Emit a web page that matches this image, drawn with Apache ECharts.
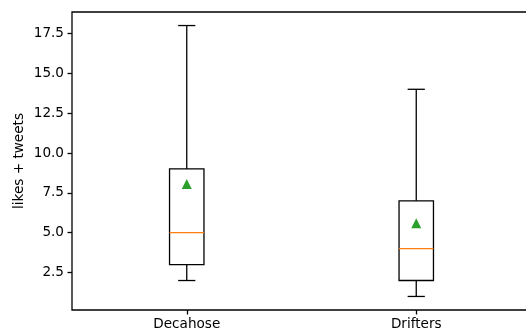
<!DOCTYPE html>
<html><head><meta charset="utf-8">
<script src="https://cdn.jsdelivr.net/npm/echarts@6/dist/echarts.min.js"></script>
<style>html,body{margin:0;padding:0;background:#fff}#c{width:526px;height:333px}</style>
</head><body><div id="c"></div>
<script>
const categories = ['Decahose', 'Drifters'];
const whiskerLow = [2, 1];
const q1 = [3, 2];
const median = [5, 4];
const q3 = [9, 7];
const whiskerHigh = [18, 14];
const means = [8.05, 5.6];
const yTicks = [2.5, 5, 7.5, 10, 12.5, 15, 17.5];
const yMin = 0.15, yMax = 18.85;

const FONT = 'DejaVu Sans';
const FS = 13.6;
const LW = 1.3;

const boxData = categories.map((c, i) => [i, whiskerLow[i], q1[i], median[i], q3[i], whiskerHigh[i]]);
const meanData = categories.map((c, i) => [i, means[i]]);

function renderBox(params, api) {
  const x = api.value(0);
  const pLow = api.coord([x, api.value(1)]);
  const pQ1 = api.coord([x, api.value(2)]);
  const pMed = api.coord([x, api.value(3)]);
  const pQ3 = api.coord([x, api.value(4)]);
  const pHigh = api.coord([x, api.value(5)]);
  const band = api.size([1, 0])[0];
  const bw = band * 0.15;
  const cw = bw / 2;
  const cx = pQ1[0];
  const s = { stroke: '#000', lineWidth: LW, fill: null };
  return {
    type: 'group',
    children: [
      { type: 'line', shape: { x1: cx, y1: pQ1[1], x2: cx, y2: pLow[1] }, style: s },
      { type: 'line', shape: { x1: cx, y1: pQ3[1], x2: cx, y2: pHigh[1] }, style: s },
      { type: 'line', shape: { x1: cx - cw / 2, y1: pLow[1], x2: cx + cw / 2, y2: pLow[1] }, style: s },
      { type: 'line', shape: { x1: cx - cw / 2, y1: pHigh[1], x2: cx + cw / 2, y2: pHigh[1] }, style: s },
      { type: 'rect', shape: { x: cx - bw / 2, y: pQ3[1], width: bw, height: pQ1[1] - pQ3[1] }, style: { stroke: '#000', lineWidth: LW, fill: 'none' } },
      { type: 'line', shape: { x1: cx - bw / 2, y1: pMed[1], x2: cx + bw / 2, y2: pMed[1] }, style: { stroke: '#ff7f0e', lineWidth: LW } }
    ]
  };
}

const chart = echarts.init(document.getElementById('c'), null, { renderer: 'canvas' });
chart.setOption({
  animation: false,
  backgroundColor: '#fff',
  grid: { left: 72, top: 12, right: -5, bottom: 23, show: true, borderColor: '#000', borderWidth: LW, backgroundColor: 'transparent', outerBoundsMode: 'none', containLabel: false },
  xAxis: {
    type: 'category',
    data: categories,
    boundaryGap: true,
    axisLine: { show: false },
    axisTick: { show: true, alignWithLabel: true, length: 4.5, lineStyle: { color: '#000', width: LW } },
    axisLabel: { color: '#000', fontFamily: FONT, fontSize: FS, margin: 7 },
    splitLine: { show: false }
  },
  yAxis: {
    type: 'value',
    min: yMin,
    max: yMax,
    name: 'likes + tweets',
    nameLocation: 'middle',
    nameGap: 46,
    nameMoveOverlap: false,
    nameTextStyle: { color: '#000', fontFamily: FONT, fontSize: FS },
    axisLine: { show: false },
    axisTick: { show: true, length: 4.5, customValues: yTicks, lineStyle: { color: '#000', width: LW } },
    axisLabel: { color: '#000', fontFamily: FONT, fontSize: FS, margin: 8, customValues: yTicks, formatter: v => v.toFixed(1) },
    splitLine: { show: false }
  },
  series: [
    { type: 'custom', renderItem: renderBox, data: boxData, encode: { x: 0, y: [1, 2, 3, 4, 5] }, z: 2 },
    { type: 'scatter', data: meanData, symbol: 'triangle', symbolSize: 10, itemStyle: { color: '#2ca02c', opacity: 1 }, z: 3 }
  ]
});
</script>
</body></html>
